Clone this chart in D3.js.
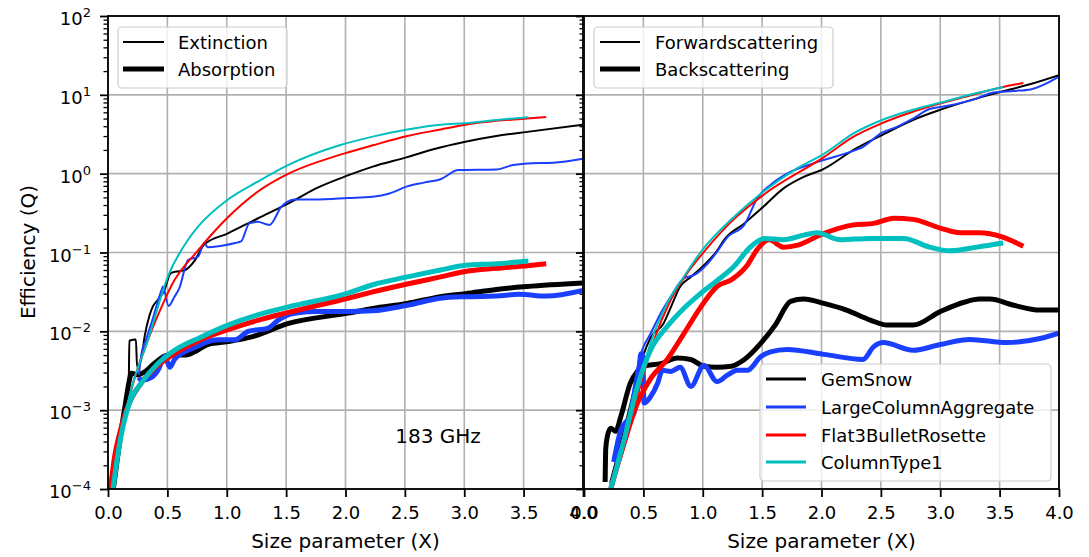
<!DOCTYPE html>
<html><head><meta charset="utf-8">
<script src="https://cdn.jsdelivr.net/npm/d3@7"></script>
<style>
body{margin:0;background:#fff}
svg text{font-family:"DejaVu Sans",sans-serif;fill:#000}
</style>
</head><body>
<svg id="c" width="1089" height="557"></svg>
<script>
// ---------- tick data ----------
const xTicks = [0, 0.5, 1, 1.5, 2, 2.5, 3, 3.5, 4];
const xTickLabels = ["0.0","0.5","1.0","1.5","2.0","2.5","3.0","3.5","4.0"];
const yDecades = [-4, -3, -2, -1, 0, 1, 2];
const yTickLabels = ["\u22124","\u22123","\u22122","\u22121","0","1","2"];

// ---------- left panel: extinction (thin) / absorption (thick) ----------
const extGemSnow = [[0.05,1.0e-4],[0.10,4.5e-4],[0.15,1.4e-3],[0.175,2.5e-3],[0.18,7.6e-3],[0.235,7.9e-3],[0.245,3.5e-3],[0.28,4.5e-3],[0.31,8.9e-3],[0.35,1.6e-2],[0.38,2.1e-2],[0.42,2.5e-2],[0.47,3.2e-2],[0.53,5.5e-2],[0.60,5.8e-2],[0.65,6.0e-2],[0.73,7.9e-2],[0.81,0.126],[1.01,0.175],[1.26,0.27],[1.52,0.42],[1.77,0.67],[2.02,0.95],[2.23,1.23],[2.52,1.62],[2.74,2.04],[3.01,2.54],[3.27,3.0],[3.53,3.39],[4.0,4.17]];
const absGemSnow = [[0.045,1.0e-4],[0.10,4.2e-4],[0.15,1.3e-3],[0.18,2.4e-3],[0.196,2.95e-3],[0.25,2.8e-3],[0.30,3.0e-3],[0.39,3.9e-3],[0.505,5.0e-3],[0.646,5.0e-3],[0.73,5.5e-3],[0.84,6.8e-3],[1.01,7.4e-3],[1.21,8.5e-3],[1.52,1.26e-2],[2.02,1.7e-2],[2.23,1.95e-2],[2.52,2.26e-2],[2.80,2.75e-2],[3.01,3.0e-2],[3.27,3.4e-2],[3.53,3.7e-2],[4.0,4.1e-2]];
const extLCA = [[0.26,2.8e-3],[0.28,5.0e-3],[0.32,7.8e-3],[0.365,1.26e-2],[0.45,3.3e-2],[0.463,3.7e-2],[0.51,2.1e-2],[0.56,2.75e-2],[0.60,3.5e-2],[0.674,8.0e-2],[0.76,8.9e-2],[0.81,0.132],[0.84,0.117],[0.93,0.12],[1.07,0.132],[1.12,0.138],[1.19,0.234],[1.26,0.245],[1.36,0.224],[1.46,0.38],[1.57,0.47],[1.74,0.47],[2.02,0.49],[2.23,0.51],[2.37,0.56],[2.52,0.69],[2.66,0.77],[2.80,0.85],[2.95,1.11],[3.27,1.13],[3.41,1.29],[3.53,1.35],[3.75,1.38],[4.0,1.55]];
const absLCA = [[0.26,2.6e-3],[0.28,2.4e-3],[0.365,2.6e-3],[0.42,3.2e-3],[0.48,4.8e-3],[0.52,3.5e-3],[0.56,4.4e-3],[0.646,5.5e-3],[0.76,6.5e-3],[0.81,7.1e-3],[0.93,7.8e-3],[1.07,7.8e-3],[1.18,1.0e-2],[1.35,1.1e-2],[1.43,1.38e-2],[1.57,1.7e-2],[1.74,1.78e-2],[2.02,1.78e-2],[2.23,1.82e-2],[2.52,2.14e-2],[2.80,2.63e-2],[3.01,2.75e-2],[3.27,2.8e-2],[3.46,2.95e-2],[3.69,2.8e-2],[4.0,3.3e-2]];
const extF3B = [[0.02,1.0e-4],[0.056,2.6e-4],[0.098,5.1e-4],[0.155,1.0e-3],[0.196,1.8e-3],[0.337,7.8e-3],[0.49,2.75e-2],[0.53,3.7e-2],[0.76,0.107],[1.01,0.28],[1.26,0.59],[1.52,1.0],[1.95,1.73],[2.23,2.29],[2.52,3.0],[2.80,3.63],[3.01,4.17],[3.27,4.68],[3.53,5.0],[3.69,5.25]];
const absF3B = [[0.02,1.0e-4],[0.056,2.6e-4],[0.098,5.1e-4],[0.155,1.0e-3],[0.28,2.2e-3],[0.42,3.7e-3],[0.56,5.2e-3],[0.786,7.9e-3],[1.01,1.05e-2],[1.26,1.38e-2],[1.52,1.74e-2],[2.02,2.63e-2],[2.23,3.16e-2],[2.52,3.98e-2],[2.80,4.9e-2],[3.01,5.75e-2],[3.27,6.3e-2],[3.53,6.8e-2],[3.69,7.2e-2]];
const extCT1 = [[0.042,1.0e-4],[0.084,2.8e-4],[0.126,6.2e-4],[0.18,1.5e-3],[0.337,7.8e-3],[0.51,5.2e-2],[0.674,0.145],[0.76,0.214],[1.01,0.47],[1.26,0.79],[1.52,1.29],[1.95,2.29],[2.23,2.95],[2.52,3.63],[2.80,4.17],[3.01,4.37],[3.27,4.79],[3.54,5.19]];
const absCT1 = [[0.042,1.0e-4],[0.084,2.8e-4],[0.126,6.2e-4],[0.18,1.23e-3],[0.28,2.2e-3],[0.42,3.9e-3],[0.56,5.75e-3],[0.786,8.5e-3],[1.01,1.2e-2],[1.26,1.62e-2],[1.52,2.04e-2],[2.02,3.05e-2],[2.23,3.9e-2],[2.52,4.9e-2],[2.80,6.0e-2],[3.01,6.9e-2],[3.27,7.2e-2],[3.54,7.8e-2]];

// ---------- right panel: forward (thin) / back (thick) scattering ----------
const fwdGemSnow = [[0.22,1.2e-4],[0.337,5.6e-4],[0.42,1.8e-3],[0.50,5.0e-3],[0.56,8.3e-3],[0.67,1.26e-2],[0.73,2.0e-2],[0.81,3.7e-2],[0.90,4.9e-2],[1.01,6.9e-2],[1.12,0.105],[1.18,0.145],[1.35,0.234],[1.51,0.38],[1.68,0.65],[1.85,0.91],[2.02,1.15],[2.27,2.0],[2.51,3.09],[2.77,4.79],[3.0,6.46],[3.25,8.5],[3.52,11.0],[3.73,13.3],[4.0,17.8]];
const backGemSnow = [[0.178,1.23e-4],[0.183,3.2e-4],[0.196,4.6e-4],[0.225,5.9e-4],[0.267,5.4e-4],[0.31,8.3e-4],[0.39,2.2e-3],[0.45,3.1e-3],[0.53,3.7e-3],[0.646,3.9e-3],[0.786,4.6e-3],[0.90,4.4e-3],[1.01,3.6e-3],[1.12,3.5e-3],[1.24,3.6e-3],[1.35,4.4e-3],[1.49,7.1e-3],[1.61,1.2e-2],[1.74,2.4e-2],[1.85,2.57e-2],[2.02,2.26e-2],[2.21,1.86e-2],[2.41,1.39e-2],[2.55,1.2e-2],[2.77,1.2e-2],[3.0,1.78e-2],[3.2,2.34e-2],[3.33,2.57e-2],[3.42,2.57e-2],[3.61,2.16e-2],[3.84,1.86e-2],[4.0,1.86e-2]];
const fwdLCA = [[0.25,2.2e-4],[0.28,2.6e-4],[0.365,6.8e-4],[0.45,3.5e-3],[0.49,5.8e-3],[0.56,9.3e-3],[0.646,1.7e-2],[0.73,2.75e-2],[0.84,4.7e-2],[0.93,5.2e-2],[1.04,7.2e-2],[1.12,0.102],[1.21,0.158],[1.35,0.224],[1.46,0.49],[1.57,0.72],[1.71,1.0],[1.93,1.35],[2.21,1.82],[2.35,2.19],[2.51,3.31],[2.63,3.89],[2.77,5.0],[2.91,6.6],[3.05,7.2],[3.28,8.7],[3.45,10.7],[3.62,11.2],[3.76,11.7],[4.0,17.0]];
const backLCA = [[0.25,2.2e-4],[0.31,5.6e-4],[0.365,7.4e-4],[0.42,9.1e-4],[0.45,1.8e-3],[0.48,5.2e-3],[0.495,5.0e-3],[0.505,1.23e-3],[0.56,1.48e-3],[0.62,2.2e-3],[0.66,3.2e-3],[0.73,3.1e-3],[0.81,3.5e-3],[0.90,2.0e-3],[1.01,3.7e-3],[1.12,2.3e-3],[1.21,2.8e-3],[1.29,3.2e-3],[1.375,3.2e-3],[1.49,4.8e-3],[1.57,5.5e-3],[1.71,5.9e-3],[2.02,5.1e-3],[2.35,4.4e-3],[2.44,6.4e-3],[2.52,7.2e-3],[2.77,5.75e-3],[3.0,6.8e-3],[3.25,7.9e-3],[3.56,7.2e-3],[3.84,8.1e-3],[4.0,9.5e-3]];
const fwdF3B = [[0.23,1.0e-4],[0.365,4.6e-4],[0.48,2.2e-3],[0.59,7.8e-3],[0.73,2.5e-2],[0.87,5.5e-2],[1.01,0.102],[1.26,0.263],[1.51,0.537],[2.02,1.62],[2.27,2.95],[2.51,4.37],[2.77,6.1],[3.0,7.76],[3.25,9.8],[3.53,12.6],[3.70,14.1]];
const backF3B = [[0.225,1.0e-4],[0.337,3.8e-4],[0.45,1.23e-3],[0.56,2.5e-3],[0.70,4.4e-3],[0.84,9.3e-3],[0.98,2.0e-2],[1.12,3.7e-2],[1.24,4.5e-2],[1.375,6.9e-2],[1.46,0.11],[1.56,0.145],[1.68,0.117],[1.80,0.124],[2.0,0.17],[2.27,0.224],[2.44,0.234],[2.61,0.272],[2.77,0.263],[3.0,0.204],[3.17,0.178],[3.33,0.178],[3.52,0.158],[3.70,0.12]];
const fwdCT1 = [[0.225,1.0e-4],[0.337,3.8e-4],[0.45,1.8e-3],[0.56,7.1e-3],[0.70,2.26e-2],[0.84,4.9e-2],[0.98,0.1],[1.26,0.28],[1.51,0.59],[1.77,1.11],[2.02,1.78],[2.27,3.24],[2.51,4.79],[2.77,6.46],[3.0,7.94],[3.25,10.0],[3.53,12.6]];
const backCT1 = [[0.225,1.0e-4],[0.337,4.2e-4],[0.45,2.0e-3],[0.56,5.75e-3],[0.70,1.15e-2],[0.84,1.95e-2],[0.98,3.0e-2],[1.12,4.4e-2],[1.26,6.6e-2],[1.40,0.117],[1.52,0.151],[1.68,0.145],[1.85,0.166],[1.96,0.178],[2.16,0.145],[2.41,0.151],[2.69,0.151],[2.91,0.117],[3.08,0.105],[3.31,0.117],[3.53,0.132]];

const shapeNames = ["GemSnow","LargeColumnAggregate","Flat3BulletRosette","ColumnType1"];
const shapeColors = ["#000000","#1a3fff","#ff0000","#00bfbf"];

// ---------- drawing ----------
const svg = d3.select("#c");
const plotTop = 16, plotBottom = 489;
const y = d3.scaleLog().domain([1e-4, 1e2]).range([plotBottom, plotTop]);
const panels = [
  {x: d3.scaleLinear().domain([0,4]).range([108,583]),
   series: [[extGemSnow,absGemSnow],[extLCA,absLCA],[extF3B,absF3B],[extCT1,absCT1]]},
  {x: d3.scaleLinear().domain([0,4]).range([584,1059]),
   series: [[fwdGemSnow,backGemSnow],[fwdLCA,backLCA],[fwdF3B,backF3B],[fwdCT1,backCT1]]}
];
const majors = yDecades.map(e => Math.pow(10, e));
const minors = [];
yDecades.slice(0,-1).forEach(e => { for (let k=2;k<10;k++) minors.push(k*Math.pow(10,e)); });

panels.forEach((p, pi) => {
  const [x0, x1] = p.x.range();
  const g = svg.append("g");
  const cid = "clip" + pi;
  svg.append("clipPath").attr("id", cid).append("rect")
    .attr("x", x0).attr("y", plotTop).attr("width", x1-x0).attr("height", plotBottom-plotTop);
  // grid
  const grid = g.append("g").attr("stroke","#b0b0b0").attr("stroke-width",1.6);
  grid.selectAll("line.gx").data(xTicks).join("line").attr("class","gx")
    .attr("x1", d=>p.x(d)).attr("x2", d=>p.x(d)).attr("y1", plotTop).attr("y2", plotBottom);
  grid.selectAll("line.gy").data(majors).join("line").attr("class","gy")
    .attr("x1", x0).attr("x2", x1).attr("y1", d=>y(d)).attr("y2", d=>y(d));
  // lines
  const line = d3.line().x(d=>p.x(d[0])).y(d=>y(d[1])).curve(d3.curveMonotoneX);
  const lg = g.append("g").attr("clip-path", `url(#${cid})`).attr("fill","none")
    .attr("stroke-linejoin","round").attr("stroke-linecap","butt");
  p.series.forEach((pair, si) => {
    lg.append("path").attr("d", line(pair[0])).attr("stroke", shapeColors[si]).attr("stroke-width", 2);
    lg.append("path").attr("d", line(pair[1])).attr("stroke", shapeColors[si]).attr("stroke-width", 5);
  });
  // x axis
  const xa = g.append("g").attr("transform", `translate(0,${plotBottom})`)
    .call(d3.axisBottom(p.x).tickValues(xTicks).tickFormat((d,i)=>xTickLabels[i])
      .tickSize(8).tickPadding(9).tickSizeOuter(0));
  xa.select(".domain").remove();
  xa.selectAll("line").attr("stroke","#000").attr("stroke-width",1.8);
  xa.selectAll("text").attr("font-size",18).attr("font-family","DejaVu Sans").attr("fill","#000");
  // y axis ticks (major + minor)
  const ya = g.append("g").attr("transform", `translate(${x0},0)`)
    .call(d3.axisLeft(y).tickValues(majors).tickFormat("").tickSize(8).tickSizeOuter(0));
  ya.select(".domain").remove();
  ya.selectAll("line").attr("stroke","#000").attr("stroke-width",1.8);
  const ym = g.append("g").attr("transform", `translate(${x0},0)`)
    .call(d3.axisLeft(y).tickValues(minors).tickFormat("").tickSize(4.5).tickSizeOuter(0));
  ym.select(".domain").remove();
  ym.selectAll("line").attr("stroke","#000").attr("stroke-width",1.3);
  // spines
  g.append("rect").attr("x", x0).attr("y", plotTop).attr("width", x1-x0).attr("height", plotBottom-plotTop)
    .attr("fill","none").attr("stroke","#000").attr("stroke-width",1.8);
  // x label
  g.append("text").attr("x", (x0+x1)/2).attr("y", 548).attr("text-anchor","middle")
    .attr("font-size",20).text("Size parameter (X)");
});

// y tick labels (left panel only)
const yl = svg.append("g");
yDecades.forEach((e, i) => {
  const t = yl.append("text").attr("x", 91).attr("y", y(Math.pow(10,e)) + 9)
    .attr("text-anchor","end").attr("font-size",18);
  t.append("tspan").text("10");
  t.append("tspan").attr("font-size",13).attr("dy",-8).text(yTickLabels[i]);
});
// y label
svg.append("text").attr("transform","translate(35,252) rotate(-90)")
  .attr("text-anchor","middle").attr("font-size",20).text("Efficiency (Q)");

// annotation
svg.append("text").attr("x",438).attr("y",443).attr("text-anchor","middle")
  .attr("font-size",20).text("183 GHz");

// legends
function legend(x, yTop, w, h, entries, lineX0, lineX1, textX) {
  const g = svg.append("g");
  g.append("rect").attr("x",x).attr("y",yTop).attr("width",w).attr("height",h)
    .attr("rx",4).attr("fill","#fff").attr("fill-opacity",0.8)
    .attr("stroke","#cccccc").attr("stroke-width",1.2);
  entries.forEach(en => {
    g.append("line").attr("x1",lineX0).attr("x2",lineX1).attr("y1",en.y).attr("y2",en.y)
      .attr("stroke",en.color).attr("stroke-width",en.w);
    g.append("text").attr("x",textX).attr("y",en.y+6.5).attr("font-size",18).text(en.label);
  });
}
legend(118, 27, 169, 61, [
  {label:"Extinction", color:"#000", w:2, y:42},
  {label:"Absorption", color:"#000", w:5, y:69}], 123, 164, 178);
legend(594, 27, 239, 61, [
  {label:"Forwardscattering", color:"#000", w:2, y:42},
  {label:"Backscattering", color:"#000", w:5, y:69}], 600, 640, 655);
const legYs = [379, 407, 435, 462];
legend(760, 364, 291, 117, shapeNames.map((n,i)=>({label:n, color:shapeColors[i], w:3, y:legYs[i]})), 766, 806, 821);
</script>
</body></html>
